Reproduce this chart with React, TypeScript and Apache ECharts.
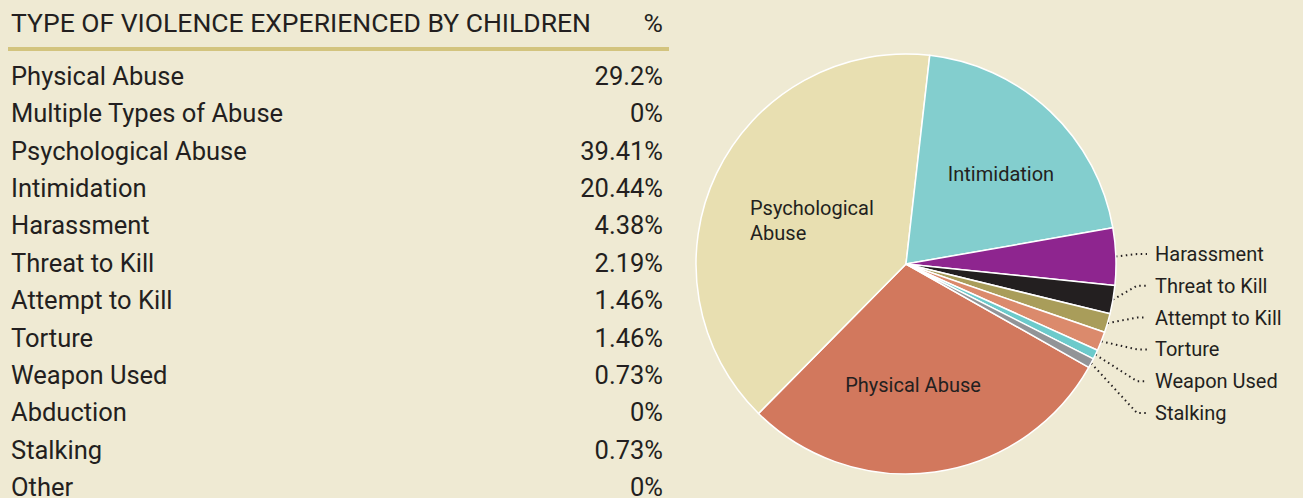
import React, { useEffect, useRef } from "react";
import * as echarts from "echarts";

const tableTitle = "TYPE OF VIOLENCE EXPERIENCED BY CHILDREN";
const unitHeader = "%";
const categories = [
  "Physical Abuse",
  "Multiple Types of Abuse",
  "Psychological Abuse",
  "Intimidation",
  "Harassment",
  "Threat to Kill",
  "Attempt to Kill",
  "Torture",
  "Weapon Used",
  "Abduction",
  "Stalking",
  "Other",
];
const values = [29.2, 0, 39.41, 20.44, 4.38, 2.19, 1.46, 1.46, 0.73, 0, 0.73, 0];
const sliceColors = [
  "#D2785D",
  "#B0B0B0",
  "#E8DFB1",
  "#83CECE",
  "#8E258F",
  "#231F20",
  "#A99D5A",
  "#DB8A6C",
  "#6CCACB",
  "#C0C0C0",
  "#929497",
  "#D0D0D0",
];
const sliceLabelText: Record<string, string> = {
  "Psychological Abuse": "Psychological\nAbuse",
};
// inner label placements (label anchor, left/center aligned)
const innerLabelPos: Record<string, { x: number; y: number; align: string }> = {
  "Psychological Abuse": { x: 750, y: 220, align: "left" },
  Intimidation: { x: 1001, y: 174, align: "center" },
  "Physical Abuse": { x: 913, y: 385, align: "center" },
};
const outerLabelX = 1147;
const outerLabelTop = 254;
const outerLabelStep = 31.8;

const BG = "#EFEAD3";
const INK = "#231F20";
const FONT = "Roboto, 'DejaVu Sans', sans-serif";

export default function App() {
  const ref = useRef<HTMLDivElement>(null);
  useEffect(() => {
    document.body.style.margin = "0";
    document.body.style.background = BG;
    const chart = echarts.init(ref.current!, null, { renderer: "svg" });

    const total = values.reduce((a, b) => a + b, 0);
    const pieData = categories
      .map((name, i) => ({ name, value: values[i], color: sliceColors[i] }))
      .filter((d) => d.value > 0)
      .map((d) => {
        const inner = d.value / total > 0.1;
        return {
          name: d.name,
          value: d.value,
          itemStyle: { color: d.color },
          label: inner
            ? { position: "inside" }
            : { position: "outside", padding: [0, 0, 0, 8] },
          labelLine: { show: !inner },
        };
      });
    const outerNames = pieData.filter((d) => d.label.position === "outside").map((d) => d.name);

    const rowTop = 76;
    const rowStep = 37.36;
    const tableFont = `400 25.5px ${FONT}`;
    const headFont = `400 26.5px ${FONT}`;
    const graphics: any[] = [
      {
        type: "text",
        style: { text: tableTitle, x: 11, y: 22.5, verticalAlign: "middle", fill: INK, font: headFont },
      },
      {
        type: "text",
        style: { text: unitHeader, x: 663, y: 22.5, align: "right", verticalAlign: "middle", fill: INK, font: headFont },
      },
      {
        type: "rect",
        shape: { x: 8, y: 47, width: 661, height: 4 },
        style: { fill: "#D3C47E" },
      },
    ];
    categories.forEach((c, i) => {
      const y = rowTop + rowStep * i;
      graphics.push({
        type: "text",
        style: { text: c, x: 11, y, verticalAlign: "middle", fill: INK, font: tableFont },
      });
      graphics.push({
        type: "text",
        style: { text: `${values[i]}%`, x: 663, y, align: "right", verticalAlign: "middle", fill: INK, font: tableFont },
      });
    });

    chart.setOption({
      animation: false,
      backgroundColor: BG,
      graphic: graphics,
      series: [
        {
          type: "pie",
          center: [906, 264],
          radius: 210,
          startAngle: 330.5,
          clockwise: true,
          data: pieData,
          itemStyle: { borderColor: "#FFFFFF", borderWidth: 1.5 },
          label: {
            color: INK,
            fontFamily: FONT,
            fontWeight: 400,
            fontSize: 20,
            lineHeight: 25,
            formatter: (p: any) => sliceLabelText[p.name] ?? p.name,
          },
          labelLine: {
            show: true,
            length: 10,
            length2: 10,
            lineStyle: { color: INK, width: 2, type: [1.5, 3.5] },
          },
          labelLayout: (params: any) => {
            const name = pieData[params.dataIndex]?.name;
            if (innerLabelPos[name]) {
              const p = innerLabelPos[name];
              return { x: p.x, y: p.y, align: p.align, verticalAlign: "middle" };
            }
            const k = outerNames.indexOf(name);
            return { x: outerLabelX, y: outerLabelTop + outerLabelStep * k, align: "left", verticalAlign: "middle" };
          },
          emphasis: { disabled: true },
        },
      ],
    });
    return () => chart.dispose();
  }, []);
  return <div ref={ref} style={{ width: 1303, height: 498 }} />;
}
